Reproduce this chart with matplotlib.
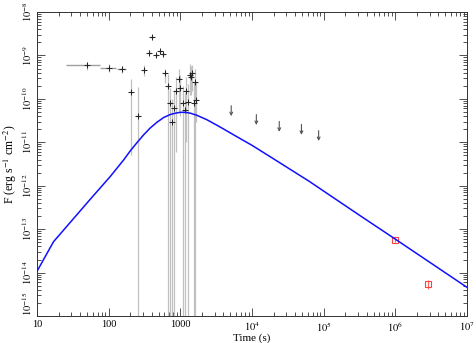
import numpy as np
import matplotlib
matplotlib.use("Agg")
import matplotlib.pyplot as plt
from matplotlib.ticker import FixedLocator, FuncFormatter, NullFormatter

plt.rcParams['font.family'] = ['Liberation Serif', 'DejaVu Serif']
plt.rcParams['mathtext.fontset'] = 'stix'

# X-ray light curve points (crosses)
t = [50, 102, 151, 204, 257, 309, 363, 407, 457, 513, 575, 617, 676, 724, 759,
     813, 871, 955, 1000, 1072, 1148, 1202, 1259, 1349, 1413, 1445, 1549, 1585, 1660]
t_lo = [25, 76, 130, 192, 241, 290, 340, 382, 428, 481, 539, 578, 634, 679, 711,
        762, 816, 895, 937, 1005, 1076, 1127, 1180, 1264, 1324, 1354, 1452, 1485, 1556]
t_hi = [76, 127, 176, 218, 274, 330, 387, 434, 488, 547, 613, 658, 721, 772, 810,
        867, 929, 1019, 1067, 1143, 1225, 1282, 1343, 1439, 1507, 1541, 1652, 1691, 1771]
flux = [6.0e-10, 5.2e-10, 4.8e-10, 1.45e-10, 4.1e-11, 4.6e-10, 1.15e-9, 2.7e-9, 1.02e-9,
        1.26e-9, 1.07e-9, 4.0e-10, 2.0e-10, 8.1e-11, 2.9e-11, 6.0e-11, 1.55e-10, 2.9e-10,
        1.74e-10, 7.9e-11, 5.5e-11, 1.55e-10, 8.3e-11, 3.5e-10, 3.2e-10, 4.0e-10, 8.1e-11,
        2.45e-10, 9.3e-11]
flux_hi = [7.2e-10, 6.3e-10, 5.7e-10, 2.9e-10, 1.86e-10, 6.0e-10, 1.3e-9, 2.95e-9, 1.12e-9,
           1.4e-9, 1.18e-9, 5.0e-10, 3.8e-10, 1.8e-10, 1.0e-10, 1.6e-10, 3.2e-10, 4.8e-10,
           3.5e-10, 2.0e-10, 1.4e-10, 3.2e-10, 2.2e-10, 6.3e-10, 5.6e-10, 6.0e-10, 2.5e-10,
           5.0e-10, 2.5e-10]
flux_lo = [4.6e-10, 4.2e-10, 3.9e-10, 5e-12, 1e-16, 3.4e-10, 1.0e-9, 2.45e-9, 0.92e-9,
           1.13e-9, 0.97e-9, 2.35e-10, 1e-16, 1e-16, 1e-16, 1e-16, 6e-12, 5e-11,
           4e-11, 1e-16, 1e-16, 1e-11, 1e-16, 1.2e-10, 1.2e-10, 1.5e-10, 1e-16,
           1e-16, 3e-11]

# upper limits
ul_t = [5130, 11500, 24000, 49000, 85100]
ul_flux = [4.0e-11, 2.5e-11, 1.74e-11, 1.48e-11, 1.07e-11]

# late points (red)
late_t = [9.9e5, 2.87e6]
late_flux = [5.6e-14, 5.4e-15]
late_lo = [5.1e-14, 4.2e-15]
late_hi = [6.1e-14, 6.9e-15]

model_logt = [1.0, 1.23, 1.741, 2.021, 2.207, 2.30, 2.394, 2.487, 2.58, 2.673, 2.767,
              2.86, 2.93, 3.0, 3.07, 3.14, 3.233, 3.37, 3.513, 3.61, 3.745, 4.0,
              4.3, 4.79, 5.5, 6.0, 7.0]
model_logf = [-13.97, -13.29, -12.315, -11.79, -11.41, -11.20, -11.01, -10.83, -10.67,
              -10.54, -10.43, -10.36, -10.33, -10.31, -10.31, -10.33, -10.38, -10.48,
              -10.61, -10.70, -10.83, -11.07, -11.38, -11.89, -12.68, -13.23, -14.34]

fig = plt.figure(figsize=(4.77, 3.43), dpi=100)
ax = fig.add_axes([0.0776, 0.0787, 0.9014, 0.8863])
ax.set_xscale('log')
ax.set_yscale('log')

t = np.array(t); flux = np.array(flux)
yerr = [flux - np.array(flux_lo), np.array(flux_hi) - flux]
xerr = [t - np.array(t_lo), np.array(t_hi) - t]
ax.errorbar(t, flux, yerr=yerr, fmt='none', ecolor='#c0c0c0', elinewidth=0.9, zorder=2)
ax.errorbar(t, flux, xerr=xerr, fmt='none', ecolor='#a0a0a0', elinewidth=1.0, zorder=2)
ax.plot(t, flux, ls='none', marker='+', ms=4, mew=0.7, color='#222222', zorder=3)

for xt, yf in zip(ul_t, ul_flux):
    ax.annotate('', xy=(xt, yf), xytext=(xt, yf * 10**0.24),
                arrowprops=dict(arrowstyle='->', color='#555555', lw=0.8,
                                mutation_scale=5, shrinkA=0, shrinkB=0))

late_t = np.array(late_t); late_flux = np.array(late_flux)
ax.errorbar(late_t, late_flux,
            yerr=[late_flux - np.array(late_lo), np.array(late_hi) - late_flux],
            fmt='s', mfc='none', mec='#ff4040', ecolor='#ff6060', ms=4.5, mew=0.8,
            elinewidth=0.8, zorder=4)

ax.plot(10 ** np.array(model_logt), 10 ** np.array(model_logf), color='#1010ff',
        lw=1.1, zorder=5)

ax.set_xlim(10, 1e7)
ax.set_ylim(1e-15, 1e-8)

def xfmt(v, pos):
    e = int(round(np.log10(v)))
    if e <= 3:
        return '%d' % int(round(v))
    return r'$10^{%d}$' % e

def yfmt(v, pos):
    e = int(round(np.log10(v)))
    return r'$10^{%d}$' % e

# only ticks inside the frame
xmaj = [10.0 ** e for e in range(1, 8)]
ymaj = [10.0 ** e for e in range(-15, -7)]
xmin = [m * 10.0 ** e for e in range(1, 7) for m in range(2, 10)]
ymin = [m * 10.0 ** e for e in range(-15, -8) for m in range(2, 10)]
ax.xaxis.set_major_locator(FixedLocator(xmaj))
ax.xaxis.set_minor_locator(FixedLocator(xmin))
ax.yaxis.set_major_locator(FixedLocator(ymaj))
ax.yaxis.set_minor_locator(FixedLocator(ymin))
ax.xaxis.set_major_formatter(FuncFormatter(xfmt))
ax.yaxis.set_major_formatter(FuncFormatter(yfmt))
ax.xaxis.set_minor_formatter(NullFormatter())
ax.yaxis.set_minor_formatter(NullFormatter())

ax.tick_params(which='both', direction='in', top=True, right=True, labelsize=7.5,
               width=0.6, color='#333333')
ax.tick_params(which='major', length=6)
ax.tick_params(which='minor', length=3)
ax.tick_params(axis='x', pad=3)
ax.tick_params(axis='y', pad=2)
for s in ax.spines.values():
    s.set_linewidth(0.7)
    s.set_color('#333333')

ax.set_xlabel('Time (s)', fontsize=8, labelpad=0)
ax.set_ylabel(r'F (erg s$^{-1}$ cm$^{-2}$)', fontsize=8.5, labelpad=1)

fig.canvas.draw()
for lab in ax.get_yticklabels():
    lab.set_rotation(90)
    lab.set_va('center')
# lowest label sits above the corner, like the original
for tk in ax.yaxis.get_major_ticks():
    if abs(tk.get_loc() - 1e-15) < 1e-18:
        tk.label1.set_va('bottom')

fig.savefig('out.png', dpi=100)
